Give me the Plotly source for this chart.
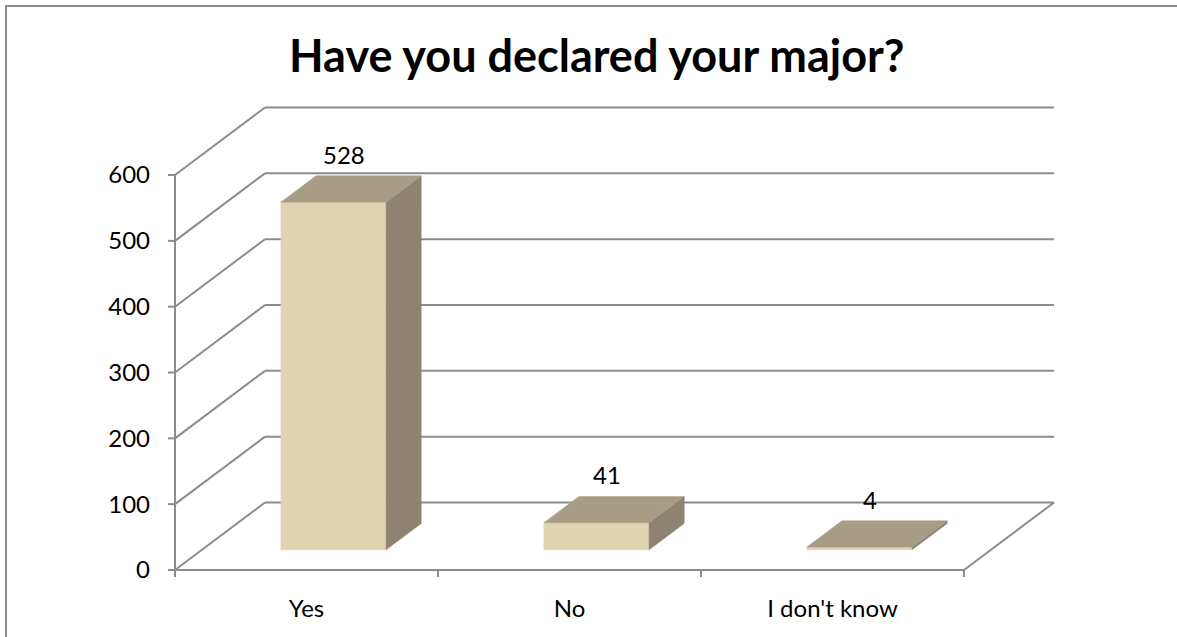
import plotly.graph_objects as go

# ---- data ----
categories = ["Yes", "No", "I don't know"]
values = [528, 41, 4]
y_ticks = [0, 100, 200, 300, 400, 500, 600]
title_text = "Have you declared your major?"

# ---- style / geometry constants ----
W, H = 1177, 637
PX_PER_CAT = 263.0      # px per category on the front plane
PX_PER_UNIT = 0.6583    # px per value unit
ORIGIN_PX = (175, 570)  # pixel of (x=0, value=0) on the front plane
DEPTH_PX = (90.0, 67.5) # oblique depth offset of back wall in px
PLOT_L, PLOT_R, PLOT_T, PLOT_B = 165, 1060, 96, 580

DX = DEPTH_PX[0] / PX_PER_CAT
DY = DEPTH_PX[1] / PX_PER_UNIT
BAR_W = 0.4
D0, D1 = 0.30, 0.69
LINE_COL = "#8C8C8C"
FRONT_COL = "#DFD3B1"
TOP_COL = "#A79D85"
SIDE_COL = "#8D8370"
FONT = "Lato"

x_range = [-(ORIGIN_PX[0] - PLOT_L) / PX_PER_CAT, (PLOT_R - ORIGIN_PX[0]) / PX_PER_CAT]
y_range = [-(PLOT_B - ORIGIN_PX[1]) / PX_PER_UNIT, (ORIGIN_PX[1] - PLOT_T) / PX_PER_UNIT]
ncat = len(categories)
ymax = y_ticks[-1]


def proj(x, v, d):
    return x + d * DX, v + d * DY


fig = go.Figure()

# ---- walls, floor, axes lines ----
lx, ly = [], []


def seg(p, q):
    lx.extend([p[0], q[0], None])
    ly.extend([p[1], q[1], None])


for v in y_ticks:
    seg(proj(0, v, 0), proj(0, v, 1))          # side wall diagonals
    seg(proj(0, v, 1), proj(ncat, v, 1))       # back wall gridlines
seg(proj(0, 0, 0), proj(ncat, 0, 0))           # floor front edge / x axis
seg(proj(ncat, 0, 0), proj(ncat, 0, 1))        # floor right edge
seg(proj(0, 0, 0), proj(0, ymax, 0))           # y axis line
# tick marks
ytl = 7 / PX_PER_CAT
xtl = 7 / PX_PER_UNIT
for v in y_ticks:
    seg((-ytl, v), (0, v))
for i in range(ncat + 1):
    seg((i, 0), (i, -xtl))

fig.add_trace(go.Scatter(x=lx, y=ly, mode="lines",
                         line=dict(color=LINE_COL, width=2),
                         hoverinfo="skip", showlegend=False))

# ---- 3D bars ----
for i, v in enumerate(values):
    a = i + 0.5 - BAR_W / 2
    b = i + 0.5 + BAR_W / 2
    faces = [
        ([proj(a, 0, D0), proj(b, 0, D0), proj(b, v, D0), proj(a, v, D0)], FRONT_COL),
        ([proj(b, 0, D0), proj(b, 0, D1), proj(b, v, D1), proj(b, v, D0)], SIDE_COL),
        ([proj(a, v, D0), proj(b, v, D0), proj(b, v, D1), proj(a, v, D1)], TOP_COL),
    ]
    for pts, col in faces:
        xs = [p[0] for p in pts] + [pts[0][0]]
        ys = [p[1] for p in pts] + [pts[0][1]]
        fig.add_trace(go.Scatter(x=xs, y=ys, mode="lines", fill="toself",
                                 fillcolor=col, line=dict(color=col, width=0.5),
                                 hoverinfo="skip", showlegend=False))
    lx_, _ = proj(i + 0.5, v, 0.42)
    _, ly_ = proj(i + 0.5, v, D1)
    fig.add_annotation(x=lx_, y=ly_, text=str(v), showarrow=False,
                       xanchor="center", yanchor="bottom", yshift=5,
                       font=dict(family=FONT, size=24, color="#000000"))

# ---- title ----
fig.add_annotation(text="<b>" + title_text + "</b>", xref="paper", yref="paper",
                   x=(596.5 - PLOT_L) / (PLOT_R - PLOT_L),
                   y=(PLOT_B - 55) / (PLOT_B - PLOT_T),
                   xanchor="center", yanchor="middle", showarrow=False,
                   font=dict(family=FONT, size=45, color="#000000"))

# ---- outer border (top & left visible) ----
pw, ph = PLOT_R - PLOT_L, PLOT_B - PLOT_T
for (x0, y0, x1, y1) in [(5, 6, W, 6), (6, 5, 6, H)]:
    fig.add_shape(type="line", xref="paper", yref="paper",
                  x0=(x0 - PLOT_L) / pw, x1=(x1 - PLOT_L) / pw,
                  y0=(PLOT_B - y0) / ph, y1=(PLOT_B - y1) / ph,
                  line=dict(color=LINE_COL, width=2))

fig.update_layout(
    width=W, height=H,
    margin=dict(l=PLOT_L, r=W - PLOT_R, t=PLOT_T, b=H - PLOT_B, pad=0),
    plot_bgcolor="white", paper_bgcolor="white",
    font=dict(family=FONT, size=24, color="#000000"),
    xaxis=dict(range=x_range, showgrid=False, zeroline=False, showline=False,
               tickvals=[i + 0.5 for i in range(ncat)], ticktext=categories,
               ticks="", ticklabelstandoff=12, fixedrange=True),
    yaxis=dict(range=y_range, showgrid=False, zeroline=False, showline=False,
               tickvals=y_ticks, ticks="", ticklabelstandoff=14, fixedrange=True),
)

fig.write_html("out.html")
